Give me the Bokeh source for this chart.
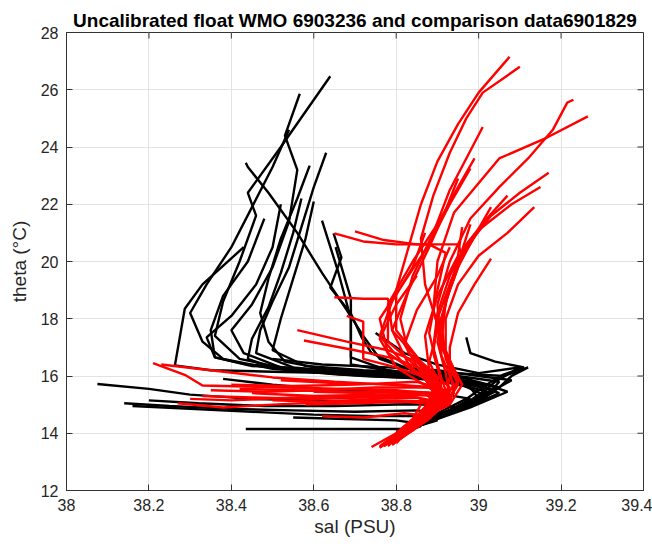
from bokeh.plotting import figure
from bokeh.models import FixedTicker, NumeralTickFormatter, Range1d
from bokeh.embed import file_html
from bokeh.resources import INLINE

title_text = "Uncalibrated float WMO 6903236 and comparison data6901829"
x_label = "sal (PSU)"
y_label = "theta (°C)"
x_ticks = [38, 38.2, 38.4, 38.6, 38.8, 39, 39.2, 39.4]
y_ticks = [12, 14, 16, 18, 20, 22, 24, 26, 28]

# black profiles: salinity / potential temperature
black_sal = [
    [38.64, 38.52, 38.44, 38.46, 38.42, 38.38, 38.36, 38.42, 38.55, 38.72, 38.88, 38.98, 39.0, 38.93, 38.86, 38.82],
    [38.566, 38.53, 38.56, 38.54, 38.5, 38.45, 38.4, 38.43, 38.52, 38.68, 38.84, 38.96, 39.03, 38.97, 38.88, 38.82],
    [38.54, 38.5, 38.45, 38.4, 38.34, 38.3, 38.33, 38.38, 38.5, 38.66, 38.82, 38.95, 39.02, 38.95, 38.87, 38.81],
    [38.435, 38.44, 38.49, 38.56, 38.62, 38.68, 38.72, 38.76, 38.84, 38.95, 39.05, 39.02, 38.93, 38.85],
    [38.63, 38.6, 38.57, 38.54, 38.5, 38.47, 38.46, 38.55, 38.7, 38.86, 38.98, 39.04, 38.97, 38.88, 38.82],
    [38.59, 38.56, 38.52, 38.49, 38.47, 38.49, 38.53, 38.64, 38.8, 38.93, 39.02, 38.99, 38.9, 38.83],
    [38.57, 38.55, 38.52, 38.49, 38.45, 38.44, 38.5, 38.66, 38.82, 38.95, 39.03, 38.98, 38.9, 38.83],
    [38.62, 38.66, 38.69, 38.69, 38.78, 38.9, 39.0, 39.05, 38.97, 38.88, 38.82],
    [38.43, 38.33, 38.287, 38.263, 38.35, 38.5, 38.65, 38.8, 38.93, 39.02, 38.97, 38.88, 38.82],
    [38.653, 38.69, 38.69, 38.8, 38.92, 39.02, 39.07, 38.98, 38.88, 38.82],
    [38.648, 38.667, 38.64, 38.69, 38.716, 38.74, 38.82, 38.94, 39.06, 39.12, 39.08, 39.05, 38.96, 38.87, 38.81],
    [38.52, 38.5, 38.46, 38.4, 38.34, 38.36, 38.45, 38.6, 38.76, 38.9, 39.0, 39.02, 38.95, 38.86, 38.8],
    [38.48, 38.44, 38.38, 38.35, 38.36, 38.44, 38.58, 38.74, 38.88, 38.99, 39.04, 38.96, 38.87, 38.81],
    [38.6, 38.58, 38.55, 38.52, 38.5, 38.58, 38.72, 38.86, 38.97, 39.05, 39.0, 38.9, 38.83],
    [38.075, 38.2, 38.3, 38.45, 38.6, 38.75, 38.88, 38.95, 38.9, 38.84, 38.8],
    [38.14, 38.25, 38.4, 38.55, 38.7, 38.85, 38.93, 38.88, 38.82],
    [38.16, 38.3, 38.45, 38.6, 38.75, 38.87, 38.9, 38.84, 38.8],
    [38.435, 38.6, 38.75, 38.83, 38.86, 38.82],
    [38.2, 38.32, 38.48, 38.65, 38.8, 38.92, 38.95, 38.88, 38.81],
    [38.38, 38.5, 38.62, 38.76, 38.9, 38.98, 38.93, 38.85, 38.8],
    [38.55, 38.68, 38.8, 38.85, 38.82],
    [38.75, 38.82, 38.9, 39.0, 39.1, 39.04, 39.0, 38.94, 38.86, 38.8],
    [38.97, 38.98, 39.04, 39.11, 39.06, 39.02, 38.97, 38.9, 38.83],
    [38.5, 38.62, 38.78, 38.9, 39.0, 39.08, 39.03, 38.96, 38.88, 38.82],
]
black_theta = [
    [26.47, 24.0, 22.4, 21.6, 20.0, 18.6, 17.4, 16.6, 16.2, 16.0, 15.9, 15.6, 15.2, 14.8, 14.4, 14.1],
    [25.86, 24.4, 23.2, 21.4, 19.8, 18.5, 17.6, 16.8, 16.3, 16.1, 16.0, 15.7, 15.4, 15.0, 14.5, 14.1],
    [24.6, 23.3, 21.9, 20.5, 19.2, 18.2, 17.2, 16.6, 16.25, 16.05, 15.95, 15.75, 15.3, 14.9, 14.4, 14.05],
    [23.45, 23.3, 22.4, 21.0, 19.6, 18.3, 17.4, 16.6, 16.2, 16.0, 15.8, 15.3, 14.8, 14.3],
    [23.8, 22.6, 21.2, 19.8, 18.6, 17.6, 16.8, 16.3, 16.1, 16.0, 15.8, 15.5, 15.0, 14.5, 14.1],
    [23.35, 22.2, 20.8, 19.4, 18.2, 17.2, 16.5, 16.2, 16.05, 15.9, 15.6, 15.1, 14.6, 14.15],
    [22.2, 21.0, 19.6, 18.4, 17.3, 16.6, 16.3, 16.15, 16.05, 15.85, 15.5, 15.0, 14.6, 14.15],
    [21.43, 19.6, 18.0, 16.65, 16.2, 16.0, 15.7, 15.4, 14.9, 14.4, 14.05],
    [20.5, 19.2, 18.35, 16.37, 16.2, 16.15, 16.1, 16.0, 15.85, 15.55, 15.05, 14.5, 14.1],
    [20.5, 18.7, 16.4, 16.15, 15.95, 15.7, 15.45, 14.9, 14.4, 14.05],
    [20.98, 20.14, 19.09, 18.18, 17.35, 16.8, 16.3, 16.1, 16.0, 16.3, 16.0, 15.6, 15.0, 14.4, 14.0],
    [22.0, 20.5, 19.2, 18.1, 17.35, 16.65, 16.35, 16.2, 16.1, 15.95, 15.7, 15.3, 14.9, 14.35, 14.0],
    [21.5, 20.0, 18.8, 17.6, 16.65, 16.4, 16.25, 16.15, 16.0, 15.75, 15.45, 14.95, 14.45, 14.05],
    [22.1, 20.8, 19.4, 18.0, 16.9, 16.35, 16.2, 16.1, 15.9, 15.6, 15.1, 14.6, 14.15],
    [15.72, 15.55, 15.35, 15.2, 15.15, 15.1, 15.05, 14.9, 14.6, 14.3, 14.05],
    [15.05, 14.95, 14.85, 14.8, 14.75, 14.8, 14.7, 14.4, 14.1],
    [14.95, 14.85, 14.75, 14.65, 14.6, 14.6, 14.45, 14.2, 14.0],
    [14.15, 14.15, 14.15, 14.15, 14.25, 14.05],
    [15.15, 15.05, 14.95, 14.95, 15.0, 15.0, 14.8, 14.45, 14.05],
    [15.9, 15.7, 15.55, 15.45, 15.4, 15.2, 14.8, 14.35, 14.0],
    [14.55, 14.5, 14.45, 14.35, 14.1],
    [17.5, 16.8, 16.4, 16.1, 16.3, 15.8, 15.3, 14.8, 14.3, 14.0],
    [17.35, 16.8, 16.5, 16.3, 16.05, 15.7, 15.2, 14.7, 14.2],
    [16.6, 16.4, 16.3, 16.2, 16.0, 15.85, 15.45, 15.0, 14.5, 14.1],
]

# red profiles: salinity / potential temperature
red_sal = [
    [39.075, 39.0, 38.95, 38.9, 38.86, 38.83, 38.8, 38.8, 38.86, 38.93, 38.9, 38.84, 38.78],
    [39.1, 39.01, 38.97, 38.93, 38.89, 38.86, 38.87, 38.9, 38.91, 38.94, 38.91, 38.85, 38.8],
    [39.23, 39.215, 39.18, 39.12, 39.05, 38.98, 38.93, 38.9, 38.91, 38.95, 38.92, 38.86, 38.79],
    [39.265, 39.166, 39.05, 38.94, 38.9, 38.89, 38.92, 38.96, 38.93, 38.86, 38.8],
    [39.01, 38.97, 38.93, 38.89, 38.84, 38.81, 38.83, 38.9, 38.91, 38.84, 38.78],
    [38.99, 38.95, 38.9, 38.84, 38.78, 38.78, 38.86, 38.92, 38.87, 38.81, 38.76],
    [38.98, 38.93, 38.88, 38.82, 38.76, 38.78, 38.87, 38.9, 38.86, 38.8],
    [39.17, 39.1, 39.03, 38.97, 38.93, 38.91, 38.92, 38.95, 38.92, 38.85, 38.79],
    [39.15, 39.08, 39.0, 38.95, 38.92, 38.91, 38.93, 38.94, 38.89, 38.82],
    [39.135, 39.07, 39.0, 38.95, 38.92, 38.92, 38.95, 38.93, 38.86, 38.78],
    [39.03, 38.99, 38.95, 38.92, 38.9, 38.92, 38.93, 38.88, 38.8],
    [39.03, 38.99, 38.95, 38.93, 38.93, 38.92, 38.86, 38.79],
    [38.65, 38.72, 38.8, 38.88, 38.92, 38.9, 38.88, 38.9, 38.92, 38.87, 38.8],
    [38.70, 38.77, 38.85, 38.95, 38.96, 38.93, 38.9, 38.88, 38.91, 38.9, 38.84, 38.77],
    [38.87, 38.84, 38.79, 38.76, 38.82, 38.9, 38.88, 38.83, 38.77],
    [38.96, 38.95, 38.9, 38.87, 38.88, 38.92, 38.86, 38.8],
    [38.85, 38.8, 38.76, 38.8, 38.89, 38.87, 38.81, 38.76],
    [38.65, 38.72, 38.78, 38.79, 38.84, 38.88, 38.9, 38.85, 38.78],
    [38.56, 38.68, 38.78, 38.85, 38.89, 38.9, 38.84, 38.77],
    [38.576, 38.7, 38.8, 38.87, 38.91, 38.88, 38.82],
    [38.21, 38.29, 38.33, 38.52, 38.68, 38.8, 38.88, 38.92, 38.86, 38.79],
    [38.23, 38.35, 38.5, 38.65, 38.78, 38.88, 38.92, 38.88, 38.81],
    [38.3, 38.4, 38.55, 38.7, 38.82, 38.9, 38.91, 38.85, 38.78],
    [38.27, 38.38, 38.5, 38.65, 38.8, 38.9, 38.88, 38.82],
    [38.35, 38.48, 38.6, 38.75, 38.88, 38.92, 38.88, 38.8],
    [38.45, 38.6, 38.75, 38.87, 38.9, 38.84, 38.76],
    [38.4, 38.55, 38.7, 38.85, 38.92, 38.9, 38.83],
    [38.52, 38.65, 38.8, 38.9, 38.93, 38.87, 38.79],
    [38.58, 38.7, 38.82, 38.9, 38.87, 38.8],
    [38.62, 38.72, 38.82, 38.88, 38.84, 38.77],
    [38.68, 38.72, 38.72, 38.8, 38.88, 38.9, 38.85, 38.78],
    [38.93, 38.9, 38.85, 38.82, 38.86, 38.91, 38.87, 38.8],
    [38.98, 38.96, 38.93, 38.9, 38.89, 38.91, 38.89, 38.82, 38.76],
    [39.07, 39.02, 38.97, 38.93, 38.9, 38.89, 38.91, 38.9, 38.83, 38.77],
    [38.95, 38.92, 38.88, 38.83, 38.79, 38.83, 38.9, 38.87, 38.8],
    [38.86, 38.84, 38.8, 38.75, 38.74],
    [38.33, 38.45, 38.6, 38.72, 38.84, 38.9, 38.86, 38.78],
    [38.42, 38.55, 38.68, 38.8, 38.88, 38.9, 38.84, 38.77],
    [38.5, 38.62, 38.75, 38.85, 38.92, 38.88, 38.81],
    [38.6, 38.72, 38.84, 38.91, 38.9, 38.82],
]
red_theta = [
    [27.15, 25.9, 24.8, 23.5, 22.0, 20.5, 19.0, 17.6, 16.5, 15.6, 14.9, 14.3, 13.6],
    [26.8, 25.9, 25.0, 23.8, 22.3, 20.8, 19.2, 17.8, 16.7, 15.7, 15.0, 14.4, 13.65],
    [25.65, 25.55, 24.6, 23.6, 22.6, 21.5, 20.0, 18.5, 17.0, 15.8, 15.0, 14.4, 13.6],
    [25.07, 24.33, 23.6, 21.7, 20.0, 18.3, 16.8, 15.7, 15.0, 14.5, 13.7],
    [24.7, 23.6, 22.5, 21.0, 19.5, 18.0, 16.8, 15.9, 15.1, 14.4, 13.55],
    [23.6, 22.6, 21.3, 20.0, 18.5, 17.2, 16.2, 15.4, 14.7, 14.0, 13.5],
    [23.25, 22.0, 20.6, 19.3, 18.0, 16.8, 15.9, 15.2, 14.6, 13.9],
    [23.1, 22.4, 21.6, 20.5, 19.2, 17.8, 16.6, 15.7, 15.0, 14.3, 13.6],
    [22.6, 22.0, 21.1, 19.9, 18.6, 17.2, 16.2, 15.4, 14.7, 14.0],
    [21.9, 21.0, 20.2, 19.2, 18.0, 16.9, 15.9, 15.1, 14.4, 13.6],
    [21.9, 20.9, 19.8, 18.6, 17.2, 16.1, 15.3, 14.6, 13.8],
    [20.1, 19.2, 18.2, 17.0, 16.0, 15.2, 14.5, 13.7],
    [20.98, 20.7, 20.6, 20.6, 20.3, 19.0, 17.5, 16.3, 15.5, 14.8, 13.9],
    [21.05, 20.75, 20.6, 20.6, 20.2, 19.0, 17.6, 16.5, 15.6, 15.0, 14.3, 13.55],
    [21.0, 19.8, 18.6, 17.4, 16.4, 15.6, 14.9, 14.2, 13.55],
    [21.2, 20.2, 18.8, 17.4, 16.2, 15.3, 14.6, 13.8],
    [19.5, 18.5, 17.3, 16.3, 15.5, 14.8, 14.0, 13.5],
    [18.75, 18.7, 18.7, 17.6, 16.8, 16.1, 15.4, 14.6, 13.7],
    [17.6, 17.2, 16.9, 16.5, 15.8, 15.1, 14.4, 13.6],
    [17.24, 16.9, 16.6, 16.2, 15.5, 14.8, 14.1],
    [16.45, 16.02, 15.67, 15.6, 15.55, 15.5, 15.4, 15.1, 14.5, 13.8],
    [16.4, 16.2, 15.95, 15.8, 15.7, 15.6, 15.3, 14.7, 14.0],
    [15.2, 15.15, 15.25, 15.3, 15.35, 15.3, 14.9, 14.3, 13.6],
    [15.05, 14.9, 15.0, 15.1, 15.15, 15.1, 14.6, 14.0],
    [15.5, 15.45, 15.5, 15.6, 15.6, 15.3, 14.7, 13.9],
    [15.4, 15.3, 15.35, 15.4, 15.0, 14.4, 13.55],
    [15.7, 15.65, 15.7, 15.8, 15.5, 14.9, 14.2],
    [15.85, 15.75, 15.7, 15.6, 15.2, 14.5, 13.7],
    [15.0, 15.05, 15.1, 15.0, 14.5, 13.85],
    [14.6, 14.55, 14.7, 14.6, 14.1, 13.6],
    [18.1, 17.9, 16.6, 16.3, 15.9, 15.3, 14.6, 13.7],
    [20.5, 19.5, 18.3, 17.1, 16.1, 15.4, 14.7, 13.9],
    [21.3, 20.4, 19.2, 18.0, 16.8, 15.8, 15.0, 14.2, 13.5],
    [22.3, 21.5, 20.6, 19.5, 18.2, 17.0, 15.9, 15.1, 14.3, 13.6],
    [22.9, 21.8, 20.5, 19.0, 17.6, 16.4, 15.5, 14.8, 14.0],
    [15.0, 14.5, 14.0, 13.6, 13.52],
    [15.3, 15.25, 15.2, 15.25, 15.3, 15.0, 14.4, 13.6],
    [15.55, 15.5, 15.45, 15.45, 15.4, 14.9, 14.3, 13.55],
    [15.15, 15.1, 15.2, 15.25, 15.05, 14.5, 13.8],
    [15.45, 15.4, 15.45, 15.4, 14.8, 14.0],
]

FONT = "Liberation Sans"
AX = "#333333"

x_min, x_max = x_ticks[0], x_ticks[-1]
y_min, y_max = y_ticks[0], y_ticks[-1]

p = figure(width=652, height=550, x_range=Range1d(x_min, x_max), y_range=Range1d(y_min, y_max),
           output_backend="svg", toolbar_location=None, title=title_text,
           min_border_left=66, min_border_right=9, min_border_top=32, min_border_bottom=60)
p.background_fill_color = "white"
p.border_fill_color = "white"
p.outline_line_color = AX
p.outline_line_width = 1

p.title.text_font = FONT
p.title.text_font_size = "19px"
p.title.text_font_style = "bold"
p.title.text_color = "#000000"
p.title.align = "center"
p.title.standoff = 3

for ax in (p.xaxis[0], p.yaxis[0]):
    ax.major_label_text_font = FONT
    ax.major_label_text_font_size = "16px"
    ax.major_label_text_color = "#262626"
    ax.axis_label_text_font = FONT
    ax.axis_label_text_font_size = "19px"
    ax.axis_label_text_font_style = "normal"
    ax.axis_label_text_color = "#262626"
    ax.axis_line_color = AX
    ax.major_tick_line_color = AX
    ax.major_tick_in = 6
    ax.major_tick_out = 0
    ax.minor_tick_in = 0
    ax.minor_tick_out = 0

p.xaxis[0].ticker = FixedTicker(ticks=x_ticks)
p.yaxis[0].ticker = FixedTicker(ticks=y_ticks)
p.xaxis[0].formatter = NumeralTickFormatter(format="0.[0]")
p.yaxis[0].formatter = NumeralTickFormatter(format="0")
p.xaxis[0].axis_label = x_label
p.yaxis[0].axis_label = y_label
p.xaxis[0].major_label_standoff = 8
p.xaxis[0].axis_label_standoff = 2
p.yaxis[0].major_label_standoff = 8
p.yaxis[0].axis_label_standoff = 8

p.xgrid.ticker = FixedTicker(ticks=x_ticks)
p.ygrid.ticker = FixedTicker(ticks=y_ticks)
p.grid.grid_line_color = "#e3e3e3"
p.grid.grid_line_width = 1

# inward tick marks on the top and right edges of the box
tick_len_y = (y_max - y_min) * 6 / 458
tick_len_x = (x_max - x_min) * 6 / 576
p.segment(x0=x_ticks, y0=[y_max] * len(x_ticks), x1=x_ticks, y1=[y_max - tick_len_y] * len(x_ticks),
          line_color=AX, line_width=1)
p.segment(x0=[x_max] * len(y_ticks), y0=y_ticks, x1=[x_max - tick_len_x] * len(y_ticks), y1=y_ticks,
          line_color=AX, line_width=1)

p.multi_line(xs=black_sal, ys=black_theta, line_color="#000000", line_width=2.4)
p.multi_line(xs=red_sal, ys=red_theta, line_color="#ff0000", line_width=2.4)

open("out.html", "w").write(file_html(p, INLINE))
